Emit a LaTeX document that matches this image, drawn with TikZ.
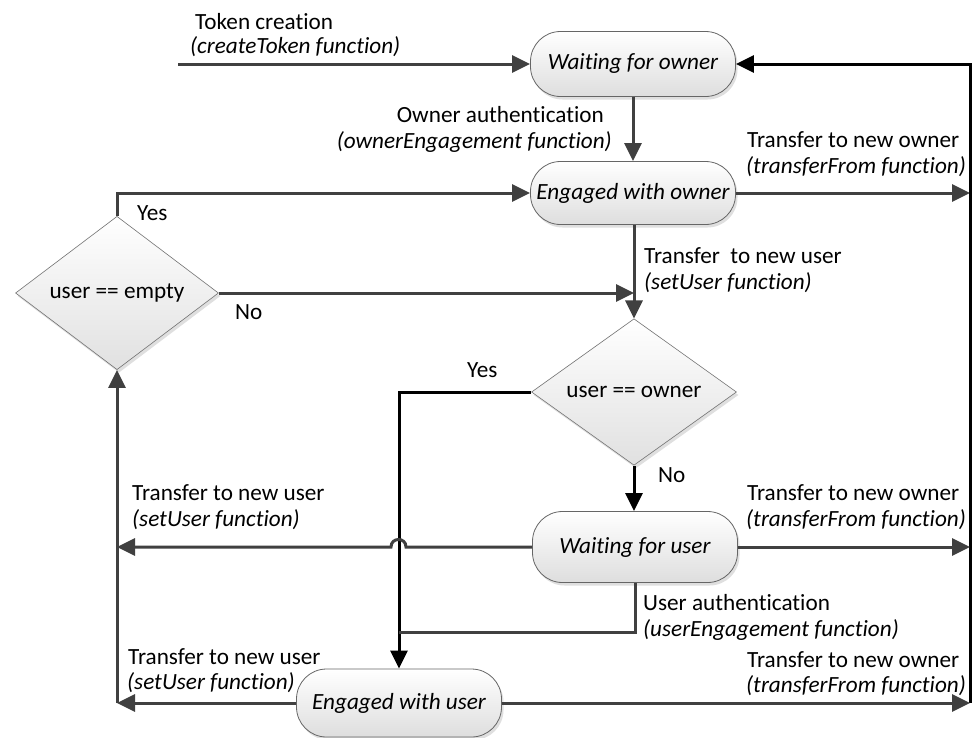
\documentclass[tikz,border=0pt]{standalone}
\usepackage{fontspec}
\setmainfont{Carlito}[RawFeature={-liga}]
\usetikzlibrary{arrows.meta,shapes.geometric,shadows}
\newcommand\diagfont{\fontsize{23.2}{28}\selectfont}
\begin{document}
\begin{tikzpicture}[x=1pt,y=-1pt,
  font=\diagfont,
  state/.style={draw=black!60, line width=0.8pt, rounded corners=30pt,
    minimum width=205pt, top color=white, bottom color=black!13,
    font=\diagfont\itshape, inner sep=0,
    drop shadow={shadow xshift=2pt,shadow yshift=-3pt,opacity=0.25}},
  decision/.style={diamond, draw=black!55, line width=0.6pt,
    top color=white, bottom color=black!12, inner sep=0,
    drop shadow={shadow xshift=2pt,shadow yshift=-3pt,opacity=0.25}},
  conn/.style={draw=black!75, line width=3pt, line join=miter,
    -{Triangle[length=18pt,width=17pt]}},
  blkconn/.style={conn, draw=black},
  plain/.style={draw=black!75, line width=3pt},
  lbl/.style={anchor=west, inner sep=0},
  ilbl/.style={anchor=west, inner sep=0, font=\diagfont\itshape},
]
\useasboundingbox (0,0) rectangle (974,737);
\fill[white] (0,0) rectangle (974,737);

% states and decisions
\node[state, minimum height=65pt] (WO) at (633,64) {Waiting for owner};
\node[state, minimum height=63pt] (EO) at (633,193) {Engaged with owner};
\node[decision, minimum width=205pt, minimum height=103pt] (UO) at (634,392) {user == owner};
\node[state, minimum height=71pt] (WU) at (635,547) {Waiting for user};
\node[state, minimum height=68pt] (EU) at (399,703) {Engaged with user};
\node[decision, minimum width=203pt, minimum height=125pt] (UE) at (117,293) {user == empty};

% helper coordinates
\coordinate (start) at (178,64);
\coordinate (Rtop) at (970,64);
\coordinate (Rbot) at (970,703);
\coordinate (Lbot) at (117,703);
\coordinate (Lmid) at (117,547);
\coordinate (J1) at (406,547);
\coordinate (J2) at (391,547);
\coordinate (ujoin) at (399,632);
\coordinate (vline) at (634,293);

% connectors
\draw[conn] (start) -- (WO.west);
\draw[conn] (WO.south) -- (WO.south |- EO.north);
\draw[conn] (EO.east) -- (EO.east -| Rbot);
\draw[blkconn] (Rbot) -- (Rtop) -- (WO.east);
\draw[conn] (UE.north) |- (EO.west);
\draw[conn] (UE.east) -- (vline);
\draw[conn] (EO.south -| UO.north) -- (UO.north);
\draw[blkconn] (UO.west) -| (EU.north);
\draw[blkconn] (UO.south) -- (UO.south |- WU.north);
\draw[conn] (WU.east) -- (WU.east -| Rbot);
\draw[conn] (WU.west) -- (J1) .. controls (406,537) and (391,537) .. (J2) -- (Lmid);
\draw[plain] (WU.south) |- (ujoin);
\draw[conn] (EU.west) -- (Lbot);
\draw[conn] (EU.east) -- (Rbot);
\draw[conn] (Lbot) -- (UE.south);

% labels
\node[lbl] (l1) at (195,22) {Token creation};
\node[ilbl] (l2) at (190,47) {(createToken function)};
\node[lbl, anchor=east] (l3) at (604,115) {Owner authentication};
\node[ilbl, anchor=east] (l4) at (612,142) {(ownerEngagement function)};
\node[lbl] (l5) at (747,140) {Transfer to new owner};
\node[ilbl] (l6) at (746,167) {(transferFrom function)};
\node[lbl] (l7) at (137,213) {Yes};
\node[lbl] (l8) at (235,312) {No};
\node[lbl] (l9) at (644,256) {Transfer\ \ to new user};
\node[ilbl] (l10) at (644,283) {(setUser function)};
\node[lbl] (l11) at (467,370) {Yes};
\node[lbl] (l12) at (658,475) {No};
\node[lbl] (l13) at (132,493) {Transfer to new user};
\node[ilbl] (l14) at (132,520) {(setUser function)};
\node[lbl] (l15) at (747,493) {Transfer to new owner};
\node[ilbl] (l16) at (746,520) {(transferFrom function)};
\node[lbl] (l17) at (643,603) {User authentication};
\node[ilbl] (l18) at (643,630) {(userEngagement function)};
\node[lbl] (l19) at (128,657) {Transfer to new user};
\node[ilbl] (l20) at (127,683) {(setUser function)};
\node[lbl] (l21) at (747,660) {Transfer to new owner};
\node[ilbl] (l22) at (746,686) {(transferFrom function)};
\end{tikzpicture}
\end{document}
